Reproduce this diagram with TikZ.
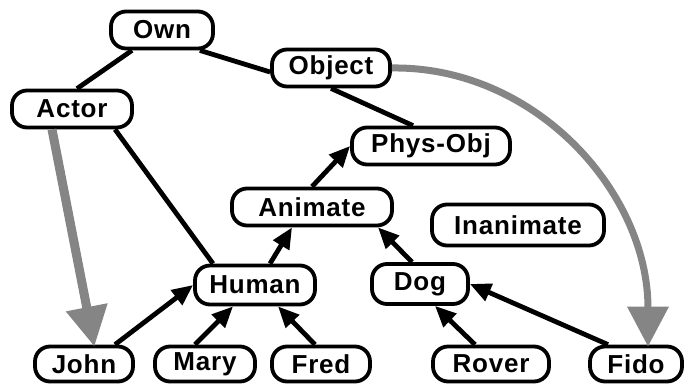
\documentclass[tikz,border=0pt]{standalone}
\usepackage{fontspec}
\setmainfont{Liberation Sans}[LetterSpace=3]
\usetikzlibrary{arrows.meta}
\begin{document}
\begin{tikzpicture}[x=1pt,y=-1pt,
  concept/.style={draw,line width=3.8pt,rounded corners=15pt,minimum height=37pt,
    inner sep=0pt,font=\fontsize{26}{30}\selectfont\bfseries,anchor=center},
  link/.style={line width=4.8pt},
  isa/.style={line width=4.8pt,-{Triangle[length=21pt,width=18pt]}},
  inst/.style={draw=black!48,line width=7pt,-{Triangle[length=40pt,width=40pt]},shorten >=-2pt}]
\useasboundingbox (0,0) rectangle (684,383);

% concept nodes
\node[concept,minimum width=102pt] (own)      at (162,30)  {Own};
\node[concept,minimum width=118pt] (object)   at (331,68)  {Object};
\node[concept,minimum width=120pt] (actor)    at (72,109)  {Actor};
\node[concept,minimum width=158pt] (physobj)  at (431,146) {Phys-Obj};
\node[concept,minimum width=160pt] (animate)  at (312,207) {Animate};
\node[concept,minimum width=172pt,minimum height=41pt] (inanimate) at (518,225) {Inanimate};
\node[concept,minimum width=120pt,minimum height=39pt] (human) at (255,285) {Human};
\node[concept,minimum width=96pt,minimum height=40pt]  (dog)   at (420,284) {Dog};
\node[concept,minimum width=98pt,minimum height=35pt]  (john)  at (84,364)  {John};
\node[concept,minimum width=100pt,minimum height=35pt] (mary)  at (205,364) {Mary};
\node[concept,minimum width=98pt,minimum height=35pt]  (fred)  at (321,364) {Fred};
\node[concept,minimum width=116pt,minimum height=35pt] (rover) at (491,364) {Rover};
\node[concept,minimum width=92pt,minimum height=35pt]  (fido)  at (636,364) {Fido};

% plain links
\draw[link] ([xshift=-30pt]own.south) -- ([xshift=5pt]actor.north);
\draw[link] ([xshift=-15pt]own.south east) -- ([yshift=-4pt]object.west);
\draw[link] (object.south) -- ([xshift=-18pt]physobj.north);
\draw[link] ([xshift=43pt]actor.south) -- ([xshift=-42pt]human.north);

% is-a arrows
\draw[isa] (animate.north) -- (physobj.west);
\draw[isa] ([xshift=15pt]human.north) -- ([xshift=-20pt]animate.south);
\draw[isa] ([xshift=-8pt]dog.north) -- ([xshift=66pt]animate.south);
\draw[isa] ([xshift=31pt]john.north) -- (human.west);
\draw[isa] ([xshift=-10pt]mary.north) -- ([xshift=-22pt]human.south);
\draw[isa] ([xshift=-6pt]fred.north) -- ([xshift=23pt]human.south);
\draw[isa] ([xshift=-16pt]rover.north) -- ([xshift=15pt]dog.south);
\draw[isa] ([xshift=-28pt]fido.north) -- (dog.east);

% instance arrows
\draw[inst,line width=9pt] ([xshift=-20pt]actor.south) -- ([xshift=10pt]john.north);
\draw[inst] (object.east) .. controls (534,66) and (648,191) .. ([xshift=12pt]fido.north);
\end{tikzpicture}
\end{document}
